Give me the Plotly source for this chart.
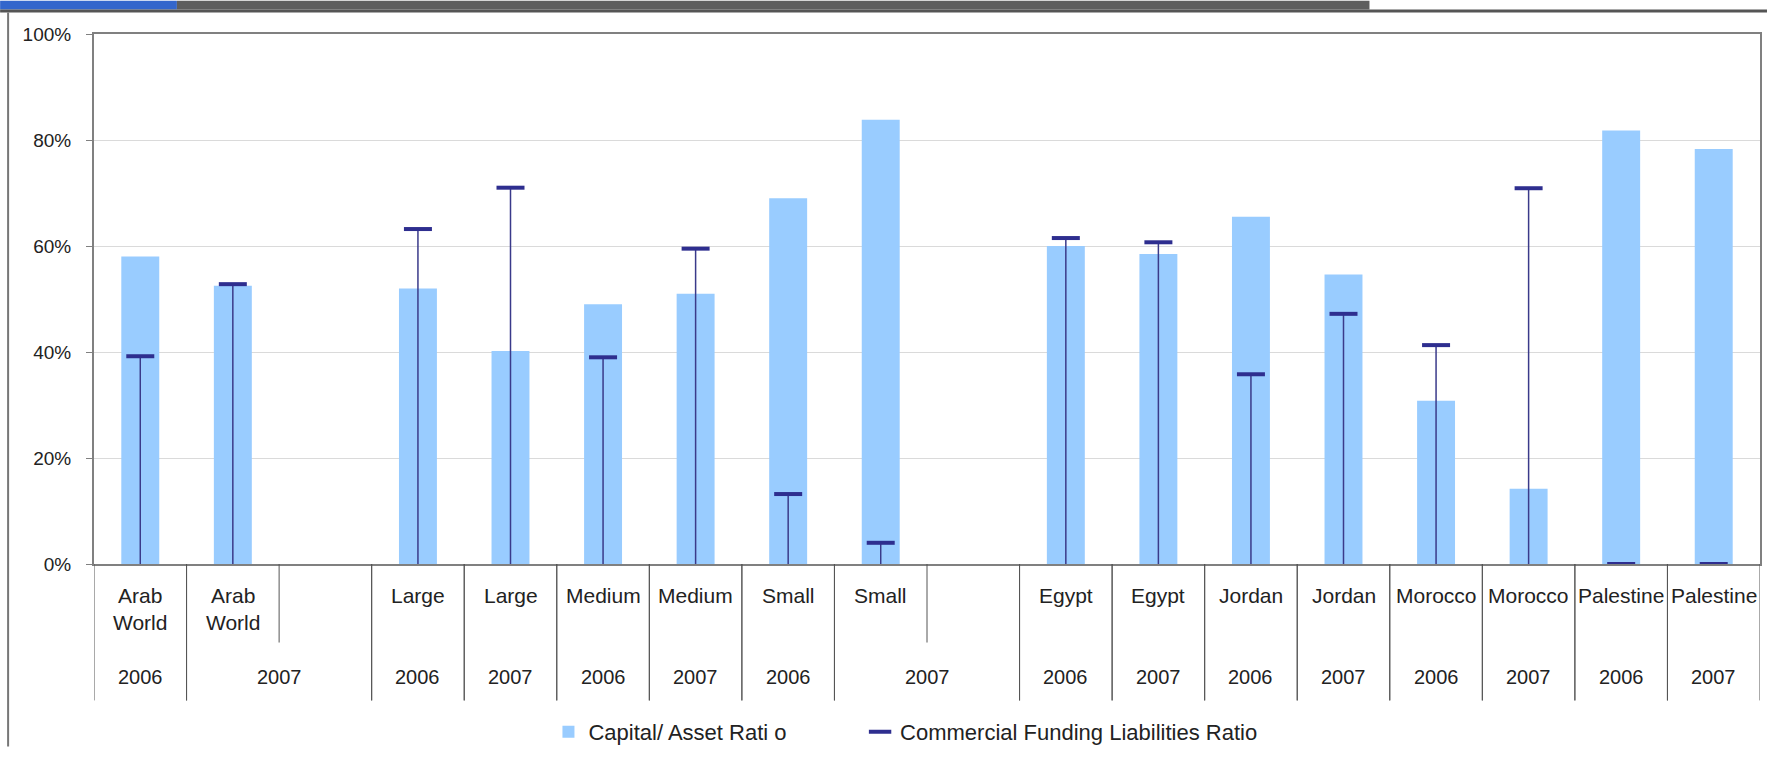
import plotly.graph_objects as go

# ---- data ----
names = ["Arab<br>World", "Arab<br>World", "", "Large", "Large", "Medium", "Medium",
         "Small", "Small", "", "Egypt", "Egypt", "Jordan", "Jordan",
         "Morocco", "Morocco", "Palestine", "Palestine"]
years = ["2006", "2007", "2007", "2006", "2007", "2006", "2007", "2006", "2007", "2007",
         "2006", "2007", "2006", "2007", "2006", "2007", "2006", "2007"]
capital_asset = [0.58, 0.525, None, 0.52, 0.402, 0.49, 0.51, 0.69, 0.838, None,
                 0.60, 0.585, 0.655, 0.546, 0.308, 0.142, 0.818, 0.783]
commercial_funding = [0.392, 0.528, None, 0.632, 0.71, 0.39, 0.595, 0.132, 0.04, None,
                      0.615, 0.607, 0.358, 0.472, 0.413, 0.709, 0.0, 0.0]
y_ticks = [0, 0.2, 0.4, 0.6, 0.8, 1.0]

x = list(range(len(names)))
FONT = "Liberation Sans, Arial, sans-serif"
TXT = "#222222"

fig = go.Figure()
fig.add_trace(go.Bar(
    x=x, y=capital_asset, name="Capital/ Asset Rati o",
    marker=dict(color="#99CCFF", line=dict(width=0)), legend="legend",
))
fig.add_trace(go.Scatter(
    x=x, y=commercial_funding, mode="markers", name="Commercial Funding Liabilities Ratio",
    marker=dict(symbol="line-ew", size=20, line=dict(width=4, color="#2E2E8F")),
    error_y=dict(type="data", symmetric=False,
                 array=[0 if v is not None else None for v in commercial_funding],
                 arrayminus=commercial_funding, width=0, thickness=1.5, color="#3A3A8A"),
    cliponaxis=False, legend="legend2",
))

# geometry helpers (pixel -> paper)
L, R, T, B = 94, 7, 34, 186
W, H = 1769, 760
PW, PH = W - L - R, H - T - B
def px(xp):
    return (xp - L) / PW
def py(yp):
    return (H - B - yp) / PH

shapes = []
annotations = []

# first-row category labels
for i, n in enumerate(names):
    if n:
        annotations.append(dict(x=i, y=py(592), xref="x", yref="paper", text=n,
                                showarrow=False, yanchor="top", xanchor="center",
                                font=dict(family=FONT, size=21, color=TXT)))

# year groups (consecutive runs; a blank slot joins the preceding 2007 group)
runs = []
start = 0
for i in range(1, len(years) + 1):
    if i == len(years) or years[i] != years[start] or (names[i] != "" and years[i - 1] == years[i]):
        runs.append((start, i - 1))
        start = i
for s, e in runs:
    annotations.append(dict(x=(s + e) / 2, y=py(689), xref="x", yref="paper", text=years[s],
                            showarrow=False, yanchor="middle", xanchor="center",
                            font=dict(family=FONT, size=20, color=TXT)))
    for b in (s - 0.5, e + 0.5):
        shapes.append(dict(type="line", xref="x", yref="paper", x0=b, x1=b,
                           y0=0, y1=py(713), line=dict(color="#555555", width=1)))
    for k in range(s, e):
        shapes.append(dict(type="line", xref="x", yref="paper", x0=k + 0.5, x1=k + 0.5,
                           y0=0, y1=py(654), line=dict(color="#555555", width=1)))

# header bar and frame
shapes += [
    dict(type="rect", xref="paper", yref="paper", x0=px(0), x1=px(177), y0=py(0), y1=py(9),
         fillcolor="#3366CC", line=dict(width=0), layer="above"),
    dict(type="rect", xref="paper", yref="paper", x0=px(177), x1=px(1371), y0=py(0), y1=py(9),
         fillcolor="#5E5E5E", line=dict(width=0), layer="above"),
    dict(type="rect", xref="paper", yref="paper", x0=px(0), x1=px(W), y0=py(9), y1=py(12),
         fillcolor="#555555", line=dict(width=0), layer="above"),
    dict(type="line", xref="paper", yref="paper", x0=px(8), x1=px(8), y0=py(12), y1=py(H),
         line=dict(color="#777777", width=2)),
]

legend_font = dict(family=FONT, size=22, color=TXT)
fig.update_layout(
    width=W, height=H,
    margin=dict(l=L, r=R, t=T, b=B),
    paper_bgcolor="white", plot_bgcolor="white",
    bargap=0.59,
    showlegend=True,
    legend=dict(orientation="h", x=px(549), xanchor="left", y=py(745), yanchor="middle",
                font=legend_font, bgcolor="rgba(0,0,0,0)"),
    legend2=dict(orientation="h", x=px(861), xanchor="left", y=py(745), yanchor="middle",
                 font=legend_font, bgcolor="rgba(0,0,0,0)"),
    shapes=shapes, annotations=annotations,
    xaxis=dict(range=[-0.5, len(names) - 0.5], showticklabels=False, showgrid=False,
               zeroline=False, showline=True, linecolor="#808080", linewidth=2, mirror=True,
               ticks=""),
    yaxis=dict(range=[0, 1], tickvals=y_ticks, tickformat=".0%", showgrid=True,
               gridcolor="#DADADA", gridwidth=1, zeroline=False, showline=True,
               linecolor="#808080", linewidth=2, mirror=True, ticks="outside", ticklen=6,
               tickcolor="#808080", ticklabelstandoff=11,
               tickfont=dict(family=FONT, size=19, color=TXT)),
    font=dict(family=FONT, color=TXT),
)

fig.write_html("out.html", config={"displayModeBar": False},
               post_script="document.body.style.margin='0';document.body.style.overflow='hidden';")
